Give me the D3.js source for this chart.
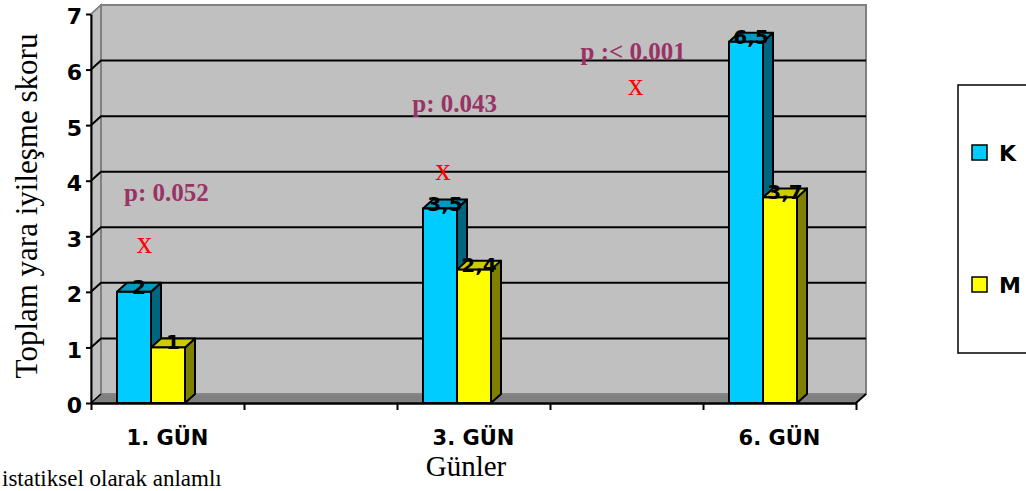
<!DOCTYPE html>
<html>
<head>
<meta charset="utf-8">
<script src="https://cdn.jsdelivr.net/npm/d3@7"></script>
<style>
  body { margin: 0; background: #fff; }
  svg { display: block; }
</style>
</head>
<body>
<div id="chart"></div>
<script>
// data
const days = ["1. GÜN", "3. GÜN", "6. GÜN"];
const daySlot = [0, 2, 4];          // 5 slots on the x axis, labels on 1st, 3rd, 5th
const seriesNames = ["K", "M"];
const kValues = [2, 3.5, 6.5];
const mValues = [1, 2.4, 3.7];
const yTicks = [0, 1, 2, 3, 4, 5, 6, 7];
const pTexts = ["p: 0.052", "p: 0.043", "p :< 0.001"];

// annotation placement, in slot units / y units
const pPos = [[0.216, 3.64], [2.10, 5.24], [3.20, 6.17]];
const markPos = [[0.35, 2.70], [2.30, 4.01], [3.56, 5.54]];

const width = 1026, height = 491;
const depth = { dx: 10, dy: -9 };
const colors = {
    K: { front: "#00ccff", side: "#006680", top: "#0099c0" },
    M: { front: "#ffff00", side: "#808000", top: "#cccc00" }
};

const svg = d3.select("#chart").append("svg")
    .attr("width", width)
    .attr("height", height);

const x = d3.scaleLinear().domain([0, 5]).range([91, 856]);
const y = d3.scaleLinear().domain([0, 7]).range([403, 14]);
const inner = d3.scaleBand().domain(seriesNames).range([26, 94]);

const fmt = d3.formatLocale({ decimal: ",", thousands: ".", grouping: [3], currency: ["", ""] }).format("~g");

const x0 = x(0), x1 = x(5), yb = y(0), yt = y(7);
const { dx, dy } = depth;
const pts = p => p.map(q => q.join(",")).join(" ");

// walls
svg.append("polygon") // left wall
    .attr("points", pts([[x0, yb], [x0, yt], [x0 + dx, yt + dy], [x0 + dx, yb + dy]]))
    .attr("fill", "#c0c0c0").attr("stroke", "#808080").attr("stroke-width", 1.5);
svg.append("rect") // back wall
    .attr("x", x0 + dx).attr("y", yt + dy)
    .attr("width", x1 - x0).attr("height", yb - yt)
    .attr("fill", "#c0c0c0").attr("stroke", "#808080").attr("stroke-width", 2);
svg.append("polygon") // floor
    .attr("points", pts([[x0, yb], [x1, yb], [x1 + dx, yb + dy], [x0 + dx, yb + dy]]))
    .attr("fill", "#808080").attr("stroke", "#8c8c8c").attr("stroke-width", 1);

// gridlines
const grid = yTicks.filter(v => v > 0 && v < 7);
svg.append("g").selectAll("path")
    .data(grid)
    .join("path")
    .attr("d", v => `M${x0},${y(v)}L${x0 + dx},${y(v) + dy}L${x1 + dx},${y(v) + dy}`)
    .attr("fill", "none")
    .attr("stroke", "#000")
    .attr("stroke-width", 2);

// bars
const bars = [];
days.forEach((d, i) => {
    bars.push({ key: "K", slot: daySlot[i], value: kValues[i] });
    bars.push({ key: "M", slot: daySlot[i], value: mValues[i] });
});

let bar = svg.selectAll(".bar")
    .data(bars)
    .join("g")
    .attr("class", "bar");

const bx = d => x(d.slot) + inner(d.key);
const bw = inner.bandwidth();

bar.append("polygon") // side
    .attr("points", d => pts([[bx(d) + bw, y(d.value)], [bx(d) + bw + dx, y(d.value) + dy],
                              [bx(d) + bw + dx, yb + dy], [bx(d) + bw, yb]]))
    .attr("fill", d => colors[d.key].side)
    .attr("stroke", "#000").attr("stroke-width", 2).attr("stroke-linejoin", "round");

bar.append("polygon") // top
    .attr("points", d => pts([[bx(d), y(d.value)], [bx(d) + bw, y(d.value)],
                              [bx(d) + bw + dx, y(d.value) + dy], [bx(d) + dx, y(d.value) + dy]]))
    .attr("fill", d => colors[d.key].top)
    .attr("stroke", "#000").attr("stroke-width", 2).attr("stroke-linejoin", "round");

bar.append("rect") // front
    .attr("x", bx)
    .attr("y", d => y(d.value))
    .attr("width", bw)
    .attr("height", d => yb - y(d.value))
    .attr("fill", d => colors[d.key].front)
    .attr("stroke", "#000").attr("stroke-width", 2);

bar.append("text")
    .text(d => fmt(d.value))
    .attr("x", d => bx(d) + bw / 2 + 5)
    .attr("y", d => y(d.value) + 2)
    .attr("text-anchor", "middle")
    .style("font-family", "DejaVu Sans")
    .style("font-weight", "bold")
    .style("font-size", "20px")
    .style("fill", "#000");

// axes
const yAxis = g => g
    .attr("transform", `translate(${x0}, 0)`)
    .call(d3.axisLeft(y).tickValues(yTicks).tickFormat(d3.format("d"))
        .tickSize(5).tickSizeOuter(0).tickPadding(4));

const xAxis = g => g
    .attr("transform", `translate(0, ${yb})`)
    .call(d3.axisBottom(x).tickValues(d3.range(6)).tickFormat("").tickSize(7).tickSizeOuter(0));

svg.append("g").call(yAxis)
    .call(g => g.select(".domain").attr("stroke-width", 2))
    .call(g => g.selectAll(".tick line").attr("stroke-width", 2))
    .call(g => g.selectAll(".tick text")
        .style("font-family", "DejaVu Sans")
        .style("font-weight", "bold")
        .style("font-size", "22px")
        .attr("dy", "0.45em"));

// diagonal tick continuations on the left wall
svg.append("g").selectAll("path")
    .data([0, 7])
    .join("path")
    .attr("d", v => `M${x0},${y(v)}L${x0 + dx},${y(v) + dy}`)
    .attr("stroke", v => v === 0 ? "#000" : "#808080")
    .attr("stroke-width", 1.5);

svg.append("g").call(xAxis)
    .call(g => g.select(".domain").attr("stroke-width", 2.5))
    .call(g => g.selectAll(".tick line").attr("stroke-width", 2));

svg.append("path")
    .attr("d", `M${x1},${yb}L${x1 + dx},${yb + dy}`)
    .attr("stroke", "#000").attr("stroke-width", 2);

svg.append("g").selectAll("text")
    .data(days)
    .join("text")
    .text(d => d)
    .attr("x", (d, i) => x(daySlot[i] + 0.5))
    .attr("y", 445)
    .attr("text-anchor", "middle")
    .style("font-family", "DejaVu Sans")
    .style("font-weight", "bold")
    .style("font-size", "21px");

// p-values and marks
svg.append("g").selectAll("text")
    .data(pTexts)
    .join("text")
    .text(d => d)
    .attr("x", (d, i) => x(pPos[i][0]))
    .attr("y", (d, i) => y(pPos[i][1]))
    .style("font-family", "Liberation Serif")
    .style("font-weight", "bold")
    .style("font-size", "25px")
    .style("fill", "#993366");

svg.append("g").selectAll("text")
    .data(markPos)
    .join("text")
    .text("x")
    .attr("x", d => x(d[0]))
    .attr("y", d => y(d[1]))
    .attr("text-anchor", "middle")
    .style("font-family", "Liberation Serif")
    .style("font-size", "31px")
    .style("fill", "#ff0000");

// titles
svg.append("text")
    .text("Toplam yara iyileşme skoru")
    .attr("transform", "translate(37, 206) rotate(-90)")
    .attr("text-anchor", "middle")
    .style("font-family", "Liberation Serif")
    .style("font-size", "31px");

svg.append("text")
    .text("Günler")
    .attr("x", 466)
    .attr("y", 476)
    .attr("text-anchor", "middle")
    .style("font-family", "Liberation Serif")
    .style("font-size", "29px");

svg.append("text")
    .text("istatiksel olarak anlamlı")
    .attr("x", 2)
    .attr("y", 486)
    .style("font-family", "Liberation Serif")
    .style("font-size", "23px");

// legend
const legend = svg.append("g");
legend.append("rect")
    .attr("x", 958).attr("y", 85)
    .attr("width", 120).attr("height", 268)
    .attr("fill", "#fff").attr("stroke", "#000").attr("stroke-width", 1.5);

const legendY = d3.scalePoint().domain(seriesNames).range([153, 285]);
const item = legend.selectAll(".item")
    .data(seriesNames)
    .join("g")
    .attr("class", "item");
item.append("rect")
    .attr("x", 972).attr("y", d => legendY(d) - 8)
    .attr("width", 15).attr("height", 15)
    .attr("fill", d => colors[d].front)
    .attr("stroke", "#000").attr("stroke-width", 1.5);
item.append("text")
    .text(d => d)
    .attr("x", 999).attr("y", d => legendY(d) + 8)
    .style("font-family", "DejaVu Sans")
    .style("font-weight", "bold")
    .style("font-size", "22px");
</script>
</body>
</html>
